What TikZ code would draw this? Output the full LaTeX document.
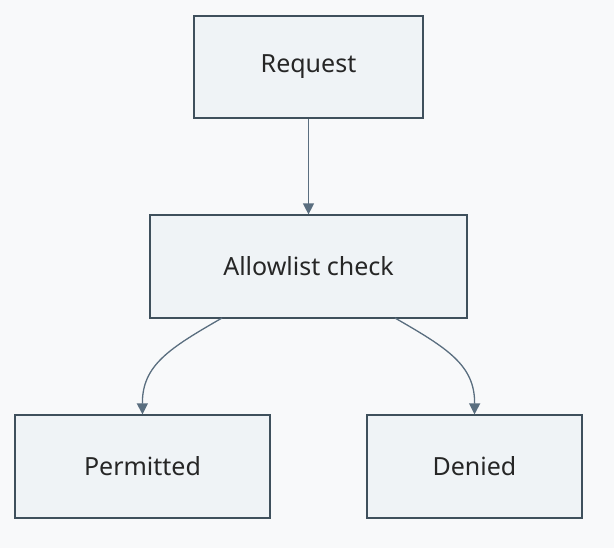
\documentclass[tikz,border=0pt]{standalone}
\usepackage{fontspec}
\setmainfont{Noto Sans}
\usetikzlibrary{arrows.meta}
\definecolor{bg}{HTML}{F8F9FA}
\definecolor{boxfill}{HTML}{EFF3F6}
\definecolor{boxline}{HTML}{3F505C}
\definecolor{edge}{HTML}{5A6E7F}
\tikzstyle{box}=[rectangle,fill=boxfill,draw=boxline,line width=1.2pt,
  inner sep=0pt,font=\fontsize{25}{30}\selectfont,text=black!85]
\tikzstyle{flow}=[draw=edge,line width=1.3pt,-{Triangle[length=11pt,width=11pt]}]
\begin{document}
\begin{tikzpicture}[x=1pt,y=-1pt]
		\fill [bg] (0,0) rectangle (614,548);
		\useasboundingbox (0,0) rectangle (614,548);
		\node [style=box,minimum width=229pt,minimum height=102pt] (request) at (308.5, 67) {Request};
		\node [style=box,minimum width=317pt,minimum height=103pt] (check) at (308.5, 266.5) {Allowlist check};
		\node [style=box,minimum width=255pt,minimum height=103pt] (permit) at (142.5, 466.5) {Permitted};
		\node [style=box,minimum width=215pt,minimum height=103pt] (deny) at (474.5, 466.5) {Denied};
		\draw [style=flow] (request) to (check);
		\draw [style=flow] (222,318) .. controls (170,348) and (142,365) .. (permit.north);
		\draw [style=flow] (395,318) .. controls (447,348) and (475,365) .. (deny.north);
\end{tikzpicture}
\end{document}
